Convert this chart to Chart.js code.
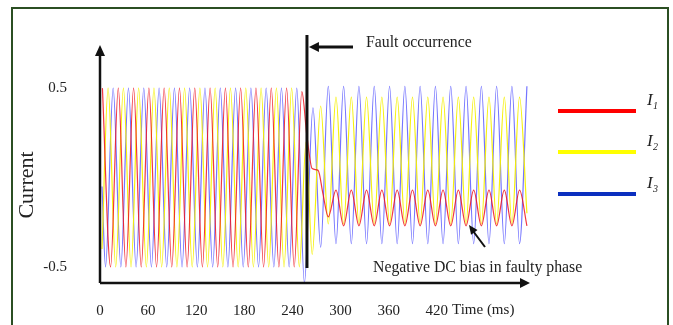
<!DOCTYPE html>
<html>
<head>
<meta charset="utf-8">
<script src="https://cdn.jsdelivr.net/npm/chart.js@4"></script>
<style>
  html, body { margin: 0; padding: 0; background: #fff; }
  #wrap { width: 673px; height: 325px; }
</style>
</head>
<body>
<div id="wrap"><canvas id="chartFault" width="673" height="325"></canvas></div>
<script>
// time ticks (ms) and current ticks
const xTicks = [0, 60, 120, 180, 240, 300, 360, 420];
const yTicks = [0.5, -0.5];
const faultTime = 258.1;

// I1 (faulty phase) - extrema
const i1Time = [3.0, 13.2, 22.8, 32.3, 41.9, 51.4, 61.0, 70.5, 80.0, 89.5, 99.1, 108.6, 118.2, 127.7,
  137.3, 146.8, 156.4, 165.9, 175.4, 184.9, 194.5, 204.0, 213.6, 223.1, 232.7, 242.2, 251.7,
  258.1, 264.6, 272.0, 278.0, 284.7, 294.3, 303.8, 313.4, 322.9, 332.4, 342.0, 351.5, 361.1,
  370.6, 380.2, 389.7, 399.2, 408.8, 418.3, 427.8, 437.4, 446.9, 456.5, 466.0, 475.6, 485.1,
  494.6, 504.2, 513.7, 523.2, 532.4];
const i1Val = [0.50, -0.50, 0.50, -0.50, 0.50, -0.50, 0.50, -0.50, 0.50, -0.50, 0.50, -0.50, 0.50, -0.50,
  0.50, -0.50, 0.50, -0.50, 0.50, -0.50, 0.50, -0.50, 0.50, -0.50, 0.50, -0.50, 0.48,
  0.23, 0.05, 0.04, -0.09, -0.22, -0.07, -0.27, -0.07, -0.27, -0.07, -0.27, -0.07, -0.27,
  -0.07, -0.27, -0.07, -0.27, -0.07, -0.27, -0.07, -0.27, -0.07, -0.27, -0.07, -0.27, -0.07,
  -0.27, -0.07, -0.27, -0.07, -0.27];

// I2
const i2Time = [2.5, 10.1, 19.6, 29.2, 38.7, 48.2, 57.8, 67.3, 76.9, 86.4, 95.9, 105.5, 115.0, 124.6,
  134.1, 143.6, 153.2, 162.7, 172.3, 181.8, 191.3, 200.9, 210.4, 220.0, 229.5, 239.0, 248.6,
  257.0, 264.6, 275.2, 284.7, 294.3, 303.8, 313.4, 322.9, 332.4, 342.0, 351.5, 361.1, 370.6,
  380.2, 389.7, 399.2, 408.8, 418.3, 427.8, 437.4, 446.9, 456.5, 466.0, 475.6, 485.1, 494.6,
  504.2, 513.7, 523.2, 532.4];
const i2Val = [-0.40, 0.50, -0.50, 0.50, -0.50, 0.50, -0.50, 0.50, -0.50, 0.50, -0.50, 0.50, -0.50, 0.50,
  -0.50, 0.50, -0.50, 0.50, -0.50, 0.50, -0.50, 0.50, -0.50, 0.50, -0.50, 0.50, -0.50,
  0.20, -0.43, 0.40, -0.26, 0.45, -0.26, 0.45, -0.26, 0.45, -0.26, 0.45, -0.26, 0.45,
  -0.26, 0.45, -0.26, 0.45, -0.26, 0.45, -0.26, 0.45, -0.26, 0.45, -0.26, 0.45, -0.26,
  0.45, -0.26, 0.45, -0.20];

// I3
const i3Time = [2.5, 6.9, 16.4, 26.0, 35.5, 45.0, 54.6, 64.1, 73.7, 83.2, 92.8, 102.3, 111.8, 121.4,
  130.9, 140.5, 150.0, 159.5, 169.1, 178.6, 188.2, 197.7, 207.2, 216.8, 226.3, 235.9, 245.4,
  254.9, 265.6, 275.2, 284.7, 294.3, 303.8, 313.4, 322.9, 332.4, 342.0, 351.5, 361.1, 370.6,
  380.2, 389.7, 399.2, 408.8, 418.3, 427.8, 437.4, 446.9, 456.5, 466.0, 475.6, 485.1, 494.6,
  504.2, 513.7, 523.2, 532.4];
const i3Val = [-0.05, -0.50, 0.50, -0.50, 0.50, -0.50, 0.50, -0.50, 0.50, -0.50, 0.50, -0.50, 0.50, -0.50,
  0.50, -0.50, 0.50, -0.50, 0.50, -0.50, 0.50, -0.50, 0.50, -0.50, 0.50, -0.50, 0.50,
  -0.59, 0.39, -0.39, 0.51, -0.37, 0.51, -0.37, 0.51, -0.37, 0.51, -0.37, 0.51, -0.37,
  0.51, -0.37, 0.51, -0.37, 0.51, -0.37, 0.51, -0.37, 0.51, -0.37, 0.51, -0.37, 0.51,
  -0.37, 0.51, -0.37, 0.51];

const serif = '"Liberation Serif", "DejaVu Serif", serif';
const toPts = (ts, vs) => ts.map((t, i) => ({ x: t, y: vs[i] }));

function arrowHead(ctx, x, y, ang, len, half) {
  ctx.save();
  ctx.translate(x, y);
  ctx.rotate(ang);
  ctx.beginPath();
  ctx.moveTo(0, 0);
  ctx.lineTo(-len, -half);
  ctx.lineTo(-len, half);
  ctx.closePath();
  ctx.fill();
  ctx.restore();
}

// axes with arrows, fault marker, notes and legend
const decor = {
  id: 'decor',
  afterDraw(chart) {
    const ctx = chart.ctx;
    const a = chart.chartArea;
    const xs = chart.scales.x;
    ctx.save();

    // outer frame
    ctx.strokeStyle = '#2b4f23';
    ctx.lineWidth = 2;
    ctx.strokeRect(12, 8, 656, 340);

    ctx.strokeStyle = '#111';
    ctx.fillStyle = '#111';
    // y axis
    ctx.lineWidth = 2.5;
    ctx.beginPath();
    ctx.moveTo(a.left, a.bottom);
    ctx.lineTo(a.left, a.top + 6);
    ctx.stroke();
    arrowHead(ctx, a.left, a.top - 2, -Math.PI / 2, 11, 5);
    // x axis
    ctx.beginPath();
    ctx.moveTo(a.left, a.bottom);
    ctx.lineTo(a.right - 6, a.bottom);
    ctx.stroke();
    arrowHead(ctx, a.right + 1, a.bottom, 0, 10, 5);

    // fault line + arrow
    const fx = xs.getPixelForValue(faultTime);
    ctx.lineWidth = 3;
    ctx.beginPath();
    ctx.moveTo(fx, 35);
    ctx.lineTo(fx, 268);
    ctx.stroke();
    ctx.beginPath();
    ctx.moveTo(fx + 10, 47);
    ctx.lineTo(353, 47);
    ctx.stroke();
    arrowHead(ctx, fx + 2, 47, Math.PI, 10, 5);

    // note arrow to the DC bias
    ctx.lineWidth = 2;
    ctx.beginPath();
    ctx.moveTo(485, 247);
    ctx.lineTo(473, 231);
    ctx.stroke();
    arrowHead(ctx, 469, 225, Math.atan2(225 - 247, 469 - 485), 9, 4);

    // texts
    ctx.fillStyle = '#222';
    ctx.textBaseline = 'middle';
    ctx.textAlign = 'left';
    ctx.font = '15.8px ' + serif;
    ctx.fillText('Fault occurrence', 366, 43);
    ctx.fillText('Negative DC bias in faulty phase', 373, 268);
    ctx.font = '15px ' + serif;
    ctx.fillText('Time (ms)', 452, 310);

    ctx.save();
    ctx.translate(27, 185);
    ctx.rotate(-Math.PI / 2);
    ctx.textAlign = 'center';
    ctx.font = '22px ' + serif;
    ctx.fillText('Current', 0, 0);
    ctx.restore();

    // legend
    const leg = [
      { c: '#ff0000', y: 111, n: '1' },
      { c: '#ffff00', y: 152, n: '2' },
      { c: '#0b2fbf', y: 194, n: '3' }
    ];
    leg.forEach((l) => {
      ctx.strokeStyle = l.c;
      ctx.lineWidth = 4;
      ctx.beginPath();
      ctx.moveTo(558, l.y);
      ctx.lineTo(636, l.y);
      ctx.stroke();
      ctx.fillStyle = '#222';
      ctx.font = 'italic 17px ' + serif;
      ctx.fillText('I', 647, l.y - 10);
      ctx.font = 'italic 10px ' + serif;
      ctx.fillText(l.n, 653, l.y - 5);
    });
    ctx.restore();
  }
};

new Chart(document.getElementById('chartFault'), {
  type: 'line',
  data: {
    datasets: [
      { label: 'I1', data: toPts(i1Time, i1Val), borderColor: 'rgba(240,20,30,0.85)' },
      { label: 'I2', data: toPts(i2Time, i2Val), borderColor: 'rgba(245,240,0,0.95)' },
      { label: 'I3', data: toPts(i3Time, i3Val), borderColor: 'rgba(70,70,255,0.75)' }
    ]
  },
  options: {
    responsive: false,
    animation: false,
    devicePixelRatio: 1,
    layout: { padding: { left: 0, right: 144, top: 47, bottom: 0 } },
    elements: {
      line: { borderWidth: 1.2, cubicInterpolationMode: 'monotone', fill: false },
      point: { radius: 0 }
    },
    plugins: { legend: { display: false }, tooltip: { enabled: false } },
    scales: {
      x: {
        type: 'linear',
        min: 0,
        max: 535,
        grid: { display: false, drawTicks: false },
        border: { display: false },
        afterBuildTicks: (s) => { s.ticks = xTicks.map((v) => ({ value: v })); },
        afterFit: (s) => { s.height = 42; },
        ticks: { padding: 19, color: '#222', font: { family: serif, size: 15 }, maxRotation: 0 }
      },
      y: {
        min: -0.59,
        max: 0.73,
        grid: { display: false, drawTicks: false },
        border: { display: false },
        afterBuildTicks: (s) => { s.ticks = yTicks.map((v) => ({ value: v })); },
        afterFit: (s) => { s.width = 100; },
        ticks: { padding: 33, color: '#222', font: { family: serif, size: 15 } }
      }
    }
  },
  plugins: [decor]
});
</script>
</body>
</html>
